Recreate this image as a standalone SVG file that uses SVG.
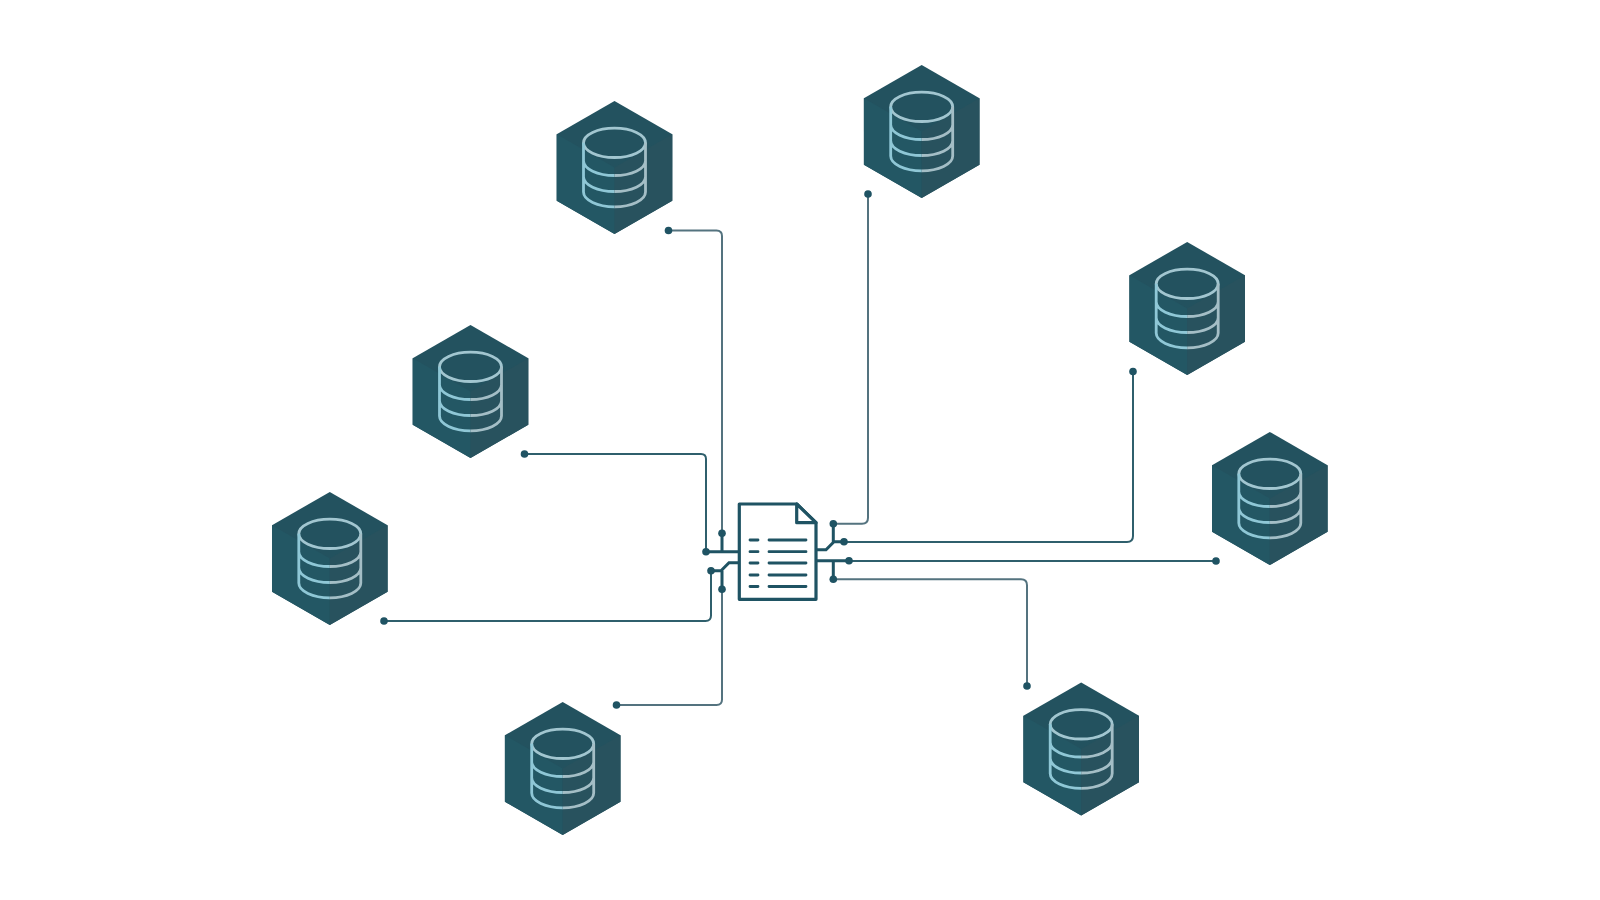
<svg xmlns="http://www.w3.org/2000/svg" width="1600" height="900" viewBox="0 0 1600 900">
<style>
.top{fill:#23525f}.l{fill:#235764}.r{fill:#28525e}
.db{fill:none;stroke-width:2.8}
.lb{stroke:#8fc7d6}.rb{stroke:#a4bec6}.tb{stroke:#a2c6d0}
.t{fill:none;stroke:#54737f;stroke-width:2}
.v{fill:none;stroke:#2f5f6c;stroke-width:2}
.s{fill:none;stroke:#1f5363;stroke-width:3}
.d{fill:#1f5363}
.doc{fill:#fff;stroke:#1f5363;stroke-width:3.2;stroke-linejoin:round}
.txt{fill:none;stroke:#1f5363;stroke-width:2.8;stroke-linecap:round}
</style>
<defs>
<g id="hex">
<polygon class="top" points="0,-66.500 57.800,-33.300 57.800,33.300 0,66.500 -57.800,33.300 -57.800,-33.300"/>
<polygon class="l" points="-57.800,-33.300 0,0 0,66.500 -57.800,33.300"/>
<polygon class="r" points="57.800,-33.300 57.800,33.300 0,66.500 0,0"/>
<ellipse class="db tb" cx="0" cy="-24.700" rx="31" ry="14.700"/>
<path class="db lb" d="M-31,-24.700V24.600C-31,32.700 -17,39.300 0,39.300M-31,-6.700C-31,1.400 -17,8 0,8M-31,9.300C-31,17.400 -17,24 0,24"/>
<path class="db rb" d="M31,-24.700V24.600C31,32.700 17,39.300 0,39.300M31,-6.700C31,1.400 17,8 0,8M31,9.300C31,17.400 17,24 0,24"/>
</g>
</defs>
<rect width="1600" height="900" fill="#fff"/>
<g id="connectors">
<path class="v" d="M706,552V459Q706,454 701,454H524.500"/>
<path class="t" d="M722,533V236Q722,230.500 716.500,230.500H668.500"/>
<path class="v" d="M711,571V615.500Q711,621 705.500,621H384"/>
<path class="t" d="M722,589V699.500Q722,705 716.500,705H616.500"/>
<path class="v" d="M844,542H1127Q1133,542 1133,536V371.500"/>
<path class="t" d="M833,523.700H862Q868,523.700 868,517.700V194"/>
<path class="v" d="M849,561H1216"/>
<path class="t" d="M833,579.300H1021Q1027,579.300 1027,585.300V686"/>
<path class="s" d="M739,551.700H706M722,551.700V533.300M739,562.700H729L721,570.700H711M722,570.700V589.300"/>
<path class="s" d="M816,549.700H826L834,541.700H844M833.300,541.700V523.700M816,560.700H849M833.300,560.700V579.300"/>
<g class="d">
<circle cx="706" cy="551.700" r="3.800"/><circle cx="722" cy="533.300" r="3.800"/><circle cx="711" cy="570.700" r="3.800"/><circle cx="722" cy="589.300" r="3.800"/>
<circle cx="844" cy="541.700" r="3.800"/><circle cx="833.300" cy="523.700" r="3.800"/><circle cx="849" cy="560.700" r="3.800"/><circle cx="833.300" cy="579.300" r="3.800"/>
<circle cx="524.500" cy="454" r="3.800"/><circle cx="668.500" cy="230.500" r="3.800"/><circle cx="384" cy="621" r="3.800"/><circle cx="616.500" cy="705" r="3.800"/>
<circle cx="1133" cy="371.500" r="3.800"/><circle cx="868" cy="194" r="3.800"/><circle cx="1216" cy="561" r="3.800"/><circle cx="1027" cy="686" r="3.800"/>
</g>
</g>
<g id="document">
<path class="doc" d="M739.300,504H796.700L816,522.700V599.300H739.300Z"/>
<path class="doc" d="M796.700,504V522.700H816Z"/>
<path class="txt" d="M750,540H758M769,540H806M750,551.700H758M769,551.700H806M750,563H758M769,563H806M750,575H758M769,575H806M750,586.500H758M769,586.500H806"/>
</g>
<g id="db1" transform="translate(614.500,167.500)"><use href="#hex"/></g>
<g id="db2" transform="translate(921.700,131.500)"><use href="#hex"/></g>
<g id="db3" transform="translate(1187.200,308.500)"><use href="#hex"/></g>
<g id="db4" transform="translate(1269.800,498.500)"><use href="#hex"/></g>
<g id="db5" transform="translate(1081.200,749)"><use href="#hex"/></g>
<g id="db6" transform="translate(562.700,768.500)"><use href="#hex"/></g>
<g id="db7" transform="translate(329.800,558.500)"><use href="#hex"/></g>
<g id="db8" transform="translate(470.500,391.500)"><use href="#hex"/></g>
</svg>
